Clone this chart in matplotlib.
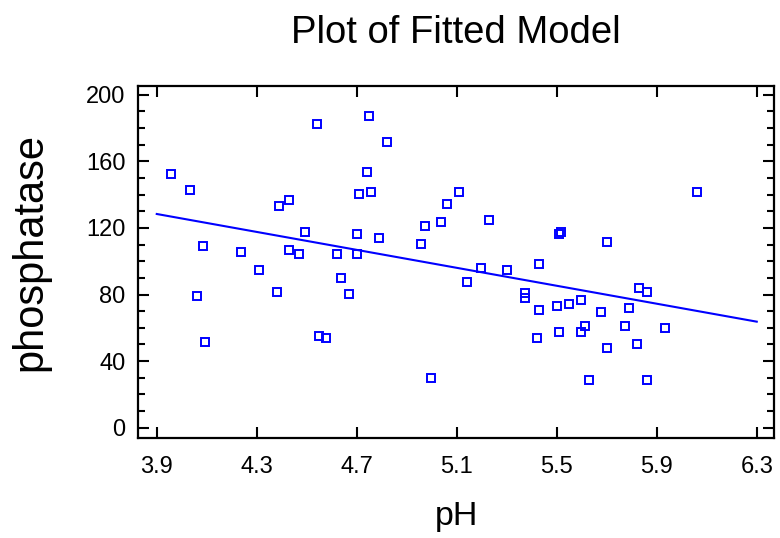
import matplotlib
matplotlib.use("Agg")
import matplotlib.pyplot as plt
from matplotlib.ticker import MultipleLocator, FixedLocator, NullLocator

plt.rcParams['font.family'] = ['Liberation Sans', 'DejaVu Sans']

ph = [3.956, 4.034, 4.084, 4.060, 4.092, 4.236, 4.308, 4.381, 4.389, 4.428,
      4.430, 4.468, 4.492, 4.541, 4.548, 4.575, 4.620, 4.636, 4.668, 4.701,
      4.700, 4.708, 4.741, 4.749, 4.757, 4.789, 4.821, 4.957, 4.973, 4.996,
      5.036, 5.061, 5.109, 5.142, 5.197, 5.228, 5.301, 5.373, 5.373, 5.420,
      5.429, 5.429, 5.500, 5.509, 5.509, 5.516, 5.549, 5.597, 5.597, 5.613,
      5.629, 5.677, 5.702, 5.702, 5.774, 5.790, 5.822, 5.830, 5.862, 5.862,
      5.934, 6.061]
phosphatase = [152.3, 142.8, 109.4, 79.1, 51.5, 105.6, 94.8, 81.6, 133.2, 136.8,
               106.8, 104.4, 117.6, 182.5, 55.1, 53.9, 104.4, 90.2, 80.3, 116.4,
               104.4, 140.4, 153.7, 187.3, 141.6, 114.0, 171.7, 110.6, 121.4, 29.9,
               123.6, 134.4, 141.6, 87.6, 95.8, 124.8, 94.8, 80.8, 77.8, 53.9,
               98.4, 70.7, 73.1, 57.5, 116.6, 117.6, 74.3, 76.7, 57.5, 61.1,
               28.7, 69.5, 111.6, 47.9, 61.1, 71.9, 50.3, 84.0, 81.6, 28.7,
               59.9, 141.6]

fit_x = [3.9, 6.3]
fit_y = [128.4, 63.7]

x_ticks = [3.9, 4.3, 4.7, 5.1, 5.5, 5.9, 6.3]
x_tick_labels = ["3.9", "4.3", "4.7", "5.1", "5.5", "5.9", "6.3"]
y_ticks = [0, 40, 80, 120, 160, 200]

W, H = 780, 538
fig = plt.figure(figsize=(W / 100, H / 100), dpi=100)
L, R, T, B = 138, 774, 86, 438
ax = fig.add_axes([L / W, 1 - B / H, (R - L) / W, (B - T) / H])

blue = '#0000ff'
ax.plot(fit_x, fit_y, color=blue, lw=1.5, zorder=2)
ax.plot(ph, phosphatase, linestyle='none', marker='s', markersize=6.4,
        markerfacecolor='none', markeredgecolor=blue, markeredgewidth=1.4, zorder=3)

ax.set_xlim(3.825, 6.369)
ax.set_ylim(-6.2, 205.3)

ax.xaxis.set_major_locator(FixedLocator(x_ticks))
ax.xaxis.set_minor_locator(NullLocator())
ax.set_xticklabels(x_tick_labels)
ax.yaxis.set_major_locator(FixedLocator(y_ticks))
ax.yaxis.set_minor_locator(MultipleLocator(10))

for sp in ax.spines.values():
    sp.set_linewidth(1.6)
    sp.set_color('black')

ax.tick_params(axis='both', which='major', direction='in', length=8, width=1.5,
               top=True, right=True, labelsize=17, colors='black')
ax.tick_params(axis='x', which='major', pad=13)
ax.tick_params(axis='y', which='major', pad=9)
ax.tick_params(axis='y', which='minor', direction='in', length=5, width=1.5,
               left=True, right=True)

fig.text(456 / W, 1 - 42.7 / H, "Plot of Fitted Model", ha='center', va='baseline',
         fontsize=27.5, color='black')
fig.text(457 / W, 1 - 525 / H, "pH", ha='center', va='baseline',
         fontsize=24.5, color='black')
fig.text(30 / W, 1 - 252 / H, "phosphatase", ha='center', va='center',
         rotation=90, fontsize=30, color='black')

fig.savefig("out.png", dpi=100)
